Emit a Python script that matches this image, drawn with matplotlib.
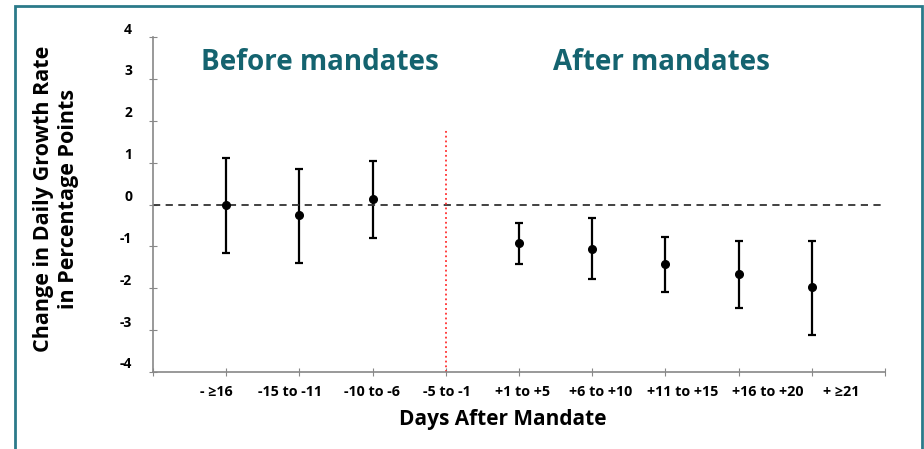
import matplotlib.pyplot as plt
import matplotlib.transforms as mtransforms
from matplotlib.patches import Rectangle
import numpy as np

# data
labels = ["- \u226516", "-15 to -11", "-10 to -6", "-5 to -1", "+1 to +5",
          "+6 to +10", "+11 to +15", "+16 to +20", "+ \u226521"]
pos = [1, 2, 3, 5, 6, 7, 8, 9]
est = [0.0, -0.26, 0.12, -0.92, -1.07, -1.43, -1.65, -1.98]
upper = [1.12, 0.84, 1.05, -0.43, -0.33, -0.78, -0.88, -0.86]
lower = [-1.15, -1.39, -0.79, -1.41, -1.79, -2.08, -2.48, -3.11]
mandate_x = 4
mandate_top = 1.79

plt.rcParams['font.family'] = ['Open Sans', 'DejaVu Sans']

fig = plt.figure(figsize=(9.24, 4.49), dpi=100)
ax = fig.add_axes([0.1656, 0.1715, 0.7922, 0.746])

# teal frame around the slide
fig.patches.append(Rectangle((15 / 924, -0.05), (907 / 924), 1.05 - 6 / 449,
                             transform=fig.transFigure, fill=False,
                             edgecolor='#2b7a8a', linewidth=2))

est = np.array(est)
yerr = [est - np.array(lower), np.array(upper) - est]
ax.errorbar(pos, est, yerr=yerr, fmt='o', color='black', markersize=5.5,
            elinewidth=1.6, capsize=3, capthick=1.6)

ax.plot([0, 10], [0, 0], linestyle=(0, (4, 3)), color='#333333', linewidth=1.3)
ax.plot([mandate_x, mandate_x], [-4, mandate_top], linestyle=':', color='#ff3030',
        linewidth=1.3)

ax.set_xlim(0, 10)
ax.set_ylim(-4, 4)
for s in ['top', 'right']:
    ax.spines[s].set_visible(False)
for s in ['left', 'bottom']:
    ax.spines[s].set_color('#888888')
    ax.spines[s].set_linewidth(1.2)

ax.set_yticks(range(-4, 5))
ax.set_yticklabels([str(v) for v in range(-4, 5)], fontweight='bold', fontsize=10)
ax.tick_params(axis='y', direction='inout', length=6, color='#888888', pad=12)
offset = mtransforms.ScaledTranslation(0, 9 / 100, fig.dpi_scale_trans)
for t in ax.get_yticklabels():
    t.set_transform(t.get_transform() + offset)

ax.set_xticks(range(0, 11))
ax.set_xticklabels([])
ax.tick_params(axis='x', direction='inout', length=6, color='#888888')

# category labels drift a little to the right of their ticks in the original
label_x = [0.87, 1.87, 2.99, 4.02, 5.05, 6.12, 7.24, 8.40, 9.40]
for lx, lab in zip(label_x, labels):
    ax.text(lx, -4.48, lab, ha='center', va='center', fontsize=10.3,
            fontweight='bold', transform=ax.transData, clip_on=False)

ax.text(2.28, 3.4, "Before mandates", ha='center', va='center', fontsize=20,
        fontweight='bold', color='#14636f')
ax.text(6.95, 3.4, "After mandates", ha='center', va='center', fontsize=20,
        fontweight='bold', color='#14636f')

fig.text(503 / 924, 1 - 420 / 449, "Days After Mandate", ha='center', va='center',
         fontsize=15, fontweight='bold')
fig.text(56 / 924, 1 - 199 / 449, "Change in Daily Growth Rate\nin Percentage Points",
         ha='center', va='center', rotation=90, fontsize=15.5, fontweight='bold',
         linespacing=1.3)

fig.savefig('out.png', dpi=100)
